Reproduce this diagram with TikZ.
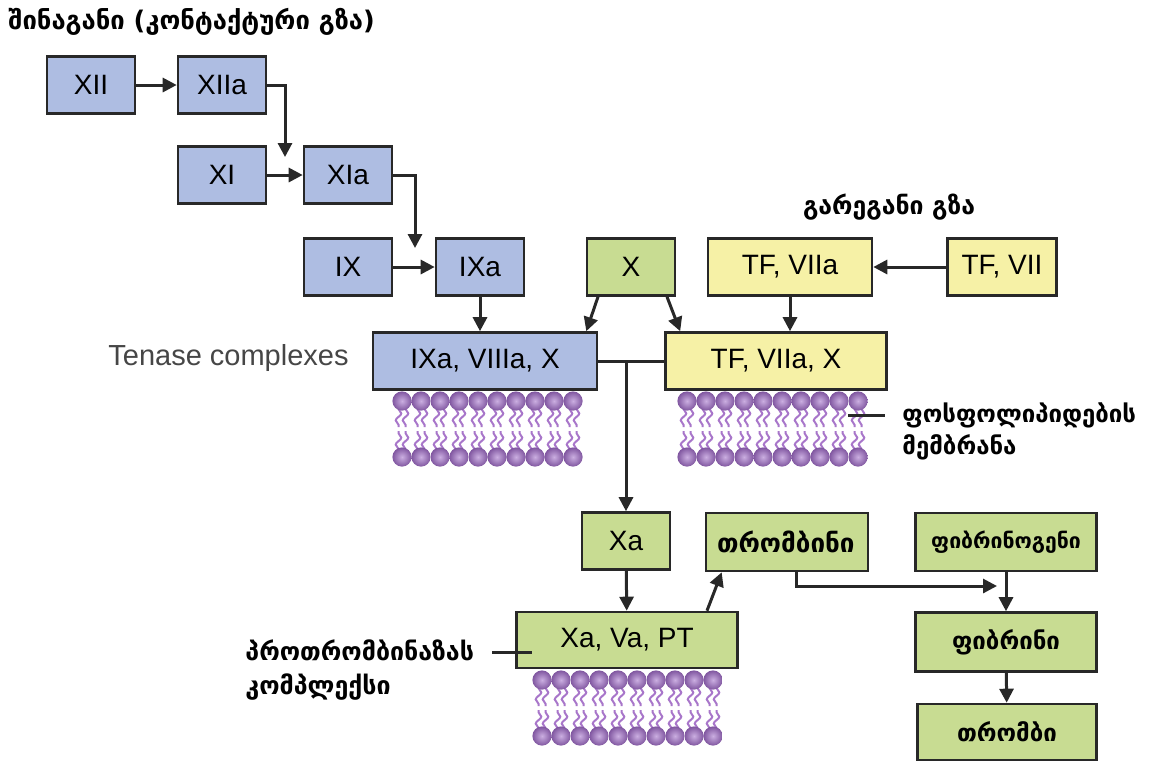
\documentclass[tikz,border=0pt]{standalone}
\usepackage{fontspec}
\setmainfont{Liberation Sans}
\newfontfamily\geofont{DejaVu Sans}
\usetikzlibrary{arrows.meta,decorations.pathmorphing}

\definecolor{intrinsic}{RGB}{174,189,226}
\definecolor{common}{RGB}{200,220,146}
\definecolor{extrinsic}{RGB}{246,241,166}
\definecolor{boxline}{RGB}{40,40,40}
\definecolor{lipid}{RGB}{160,108,200}
\definecolor{lipidtail}{RGB}{168,118,202}
\definecolor{labelgray}{RGB}{70,70,70}

% phospholipid bilayer: #1 = x of first head, #2 = y of upper row
\newcommand{\bilayer}[2]{%
  \foreach \i in {0,...,9} {
    \pgfmathsetmacro{\hx}{#1+19*\i}
    \foreach \dx in {-3.5,3.5} {
      \draw[lipidtail, line width=1pt, decorate,
        decoration={snake,amplitude=1.4pt,segment length=7pt}]
        (\hx+\dx,#2+8) -- (\hx+\dx,#2+26);
      \draw[lipidtail, line width=1pt, decorate,
        decoration={snake,amplitude=1.4pt,segment length=7pt}]
        (\hx+\dx,#2+48) -- (\hx+\dx,#2+30);
    }
    \shade[inner color=lipid!55!white, outer color=lipid!80!black]
      (\hx,#2) circle [radius=4.8pt];
    \shade[inner color=lipid!55!white, outer color=lipid!80!black]
      (\hx,#2+56) circle [radius=4.8pt];
  }}

\begin{document}
\begin{tikzpicture}[x=0.5pt,y=-0.5pt,
  box/.style={draw=boxline, line width=1.3pt, inner sep=0pt,
    minimum width=44pt, minimum height=28.5pt,
    font=\fontsize{14}{16}\selectfont},
  intr/.style={box, fill=intrinsic},
  comm/.style={box, fill=common},
  extr/.style={box, fill=extrinsic},
  georgian/.style={font=\geofont\bfseries\fontsize{12}{16}\selectfont},
  arr/.style={draw=boxline, line width=1.5pt, -{Triangle[length=7pt,width=7pt]}},
  link/.style={draw=boxline, line width=1.5pt}]
\fill[white] (0,0) rectangle (1152,762);
\useasboundingbox (0,0) rectangle (1152,762);

% intrinsic pathway
\node[intr] (f12) at (91,85) {XII};
\node[intr] (f12a) at (222,85) {XIIa};
\node[intr] (f11) at (222,175) {XI};
\node[intr] (f11a) at (348,175) {XIa};
\node[intr] (f9) at (348,267) {IX};
\node[intr] (f9a) at (480,267) {IXa};
\node[intr, minimum width=112pt] (tenase) at (485,361) {IXa, VIIIa, X};

% extrinsic pathway
\node[comm] (fx) at (631,267) {X};
\node[extr, minimum width=82pt] (tf7a) at (790,267) {TF, VIIa};
\node[extr, minimum width=54.5pt] (tf7) at (1002,267) {TF, VII};
\node[extr, minimum width=110.5pt] (tfx) at (776,361) {TF, VIIa, X};

% common pathway
\node[comm] (xa) at (626,541) {Xa};
\node[comm, minimum width=110.5pt, minimum height=28pt] (prothr) at (627,640) {Xa, Va, PT};
\node[comm, georgian, font=\geofont\bfseries\fontsize{13}{16}\selectfont,
  minimum width=81pt, minimum height=29pt, text width=70pt, align=left]
  (thrombin) at (787,542) {თრომბინი};
\node[comm, georgian, font=\geofont\bfseries\fontsize{10.6}{12}\selectfont,
  minimum width=90.5pt, minimum height=29pt] (fibrinogen) at (1006,542) {ფიბრინოგენი};
\node[comm, georgian, minimum width=90.5pt, minimum height=29.5pt] (fibrin) at (1006,642) {ფიბრინი};
\node[comm, georgian, minimum width=89.5pt, minimum height=28pt] (thrombus) at (1007,732) {თრომბი};

% membranes
\bilayer{402}{401}
\bilayer{687}{401}
\bilayer{542}{680}

% labels
\node[georgian, font=\geofont\bfseries\fontsize{12.8}{16}\selectfont,
  anchor=west, inner sep=0pt] (intrlbl) at (8,22) {შინაგანი (კონტაქტური გზა)};
\node[georgian, font=\geofont\bfseries\fontsize{12.4}{16}\selectfont] (extrlbl) at (889,207) {გარეგანი გზა};
\node[anchor=west, inner sep=0pt, text=labelgray,
  font=\fontsize{14.5}{16}\selectfont] (tenlbl) at (108,358) {Tenase complexes};
\node[georgian, anchor=north west, align=left, inner sep=0pt] (memlbl) at (902,402)
  {ფოსფოლიპიდების\\მემბრანა};
\node[georgian, font=\geofont\bfseries\fontsize{12.5}{17}\selectfont,
  anchor=north west, align=left, inner sep=0pt] (protlbl) at (245,639)
  {პროთრომბინაზას\\კომპლექსი};

% connectors
\coordinate (k1) at (285,157);
\coordinate (k2) at (415,248);
\coordinate (k3) at (997,586);
\draw[arr] (f12) -- (f12a);
\draw[arr] (f12a.east) -| (k1);
\draw[arr] (f11) -- (f11a);
\draw[arr] (f11a.east) -| (k2);
\draw[arr] (f9) -- (f9a);
\draw[arr] (f9a.south) -- (f9a.south |- tenase.north);
\draw[arr] ([xshift=-16.5pt]fx.south) -- ([xshift=-6pt]tenase.north east);
\draw[arr] ([xshift=18pt]fx.south) -- ([xshift=8pt]tfx.north west);
\draw[arr] (tf7) -- (tf7a);
\draw[arr] (tf7a.south) -- (tf7a.south |- tfx.north);
\draw[link] (tenase.east) -- (tfx.west);
\draw[arr] (xa.north |- tenase.east) -- (xa.north);
\draw[arr] (xa) -- (prothr);
\draw[arr] ([xshift=40pt]prothr.north) -- ([xshift=8.5pt]thrombin.south west);
\draw[arr] ([xshift=4.5pt]thrombin.south) |- (k3);
\draw[arr] (fibrinogen) -- (fibrin);
\draw[arr] (fibrin) -- (thrombus);

% leader lines
\coordinate (m1) at (848,415);
\coordinate (m2) at (885,415);
\coordinate (p1) at (492,652);
\coordinate (p2) at (532,652);
\draw[link] (m1) -- (m2);
\draw[link] (p1) -- (p2);
\end{tikzpicture}
\end{document}
